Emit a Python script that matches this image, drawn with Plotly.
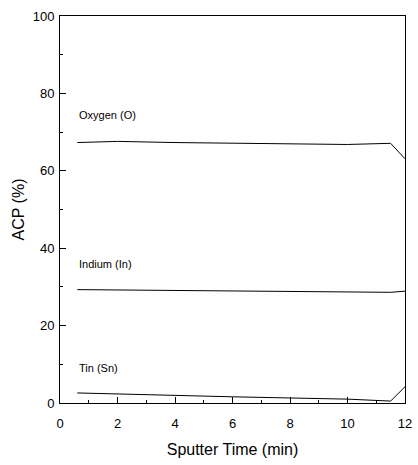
import plotly.graph_objects as go

# Atomic concentration profiles vs sputter time
time_min = [0.6, 2.0, 4.0, 6.0, 8.0, 10.0, 11.5, 12.0]
oxygen = [67.3, 67.6, 67.3, 67.1, 67.0, 66.8, 67.1, 63.1]
indium = [29.3, 29.2, 29.0, 28.9, 28.8, 28.7, 28.6, 28.9]
tin = [2.6, 2.3, 1.9, 1.6, 1.3, 1.0, 0.5, 4.2]

series_labels = ["Oxygen (O)", "Indium (In)", "Tin (Sn)"]
label_y = [74.5, 36.0, 9.0]

x_ticks = [0, 2, 4, 6, 8, 10, 12]
y_ticks = [0, 20, 40, 60, 80, 100]

FONT = "Liberation Sans, Arial"

fig = go.Figure()
for ys in (oxygen, indium, tin):
    fig.add_trace(go.Scatter(x=time_min, y=ys, mode="lines",
                             line=dict(color="black", width=1),
                             showlegend=False))

for text, yv in zip(series_labels, label_y):
    fig.add_annotation(x=0.6, y=yv, text=text, showarrow=False,
                       xanchor="left", yanchor="middle",
                       font=dict(family=FONT, size=11, color="black"))

axis_common = dict(showgrid=False, zeroline=False, showline=True, linecolor="black",
                   linewidth=1, mirror=True, ticks="inside", ticklen=6,
                   tickcolor="black", ticklabeloverflow="allow",
                   tickfont=dict(family=FONT, size=13, color="black"))

fig.update_xaxes(range=[0, 12], tickvals=x_ticks, ticklabelstandoff=8,
                 minor=dict(ticks="inside", ticklen=3, tickcolor="black", dtick=1),
                 title=dict(text="Sputter Time (min)", standoff=14,
                            font=dict(family=FONT, size=16, color="black")),
                 **axis_common)
fig.update_yaxes(range=[0, 100], tickvals=y_ticks, ticklabelstandoff=2,
                 minor=dict(ticks="inside", ticklen=3, tickcolor="black", dtick=10),
                 title=dict(text="ACP (%)", standoff=4,
                            font=dict(family=FONT, size=16, color="black")),
                 **axis_common)

fig.update_layout(width=418, height=465, plot_bgcolor="white", paper_bgcolor="white",
                  margin=dict(l=60, r=6, t=16, b=62))

fig.write_html("out.html")
